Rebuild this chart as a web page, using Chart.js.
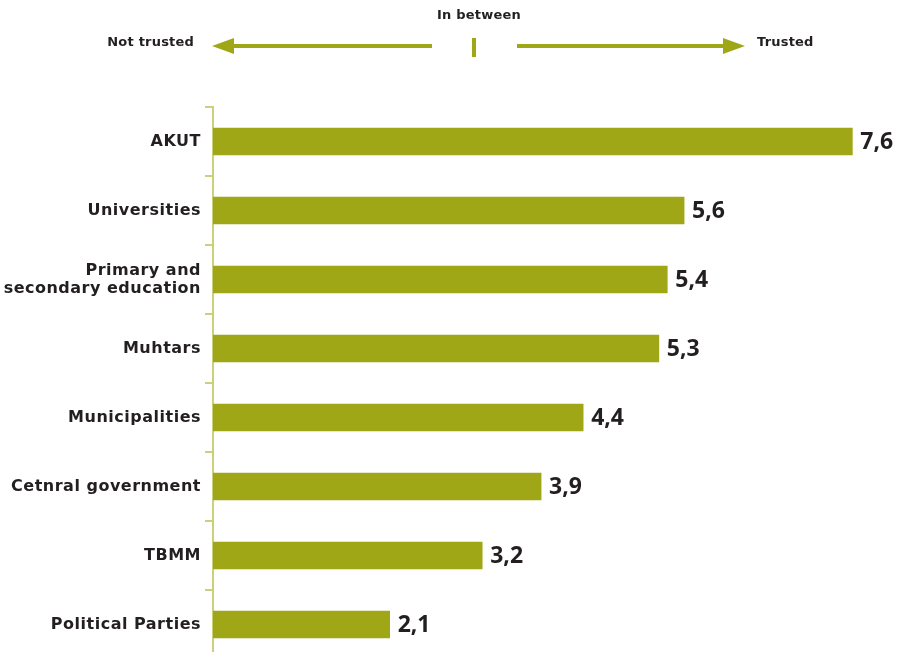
<!DOCTYPE html>
<html>
<head>
<meta charset="utf-8">
<script src="https://cdn.jsdelivr.net/npm/chart.js@4"></script>
<style>
  html, body { margin: 0; padding: 0; background: #fff; }
  #wrap { width: 900px; height: 652px; overflow: hidden; }
</style>
</head>
<body>
<div id="wrap"><canvas id="trustChart" width="900" height="672"></canvas></div>
<script>
// Data
const categories = ['AKUT', 'Universities', ['Primary and', 'secondary education'], 'Muhtars',
    'Municipalities', 'Cetnral government', 'TBMM', 'Political Parties'];
const trustScores = [7.6, 5.6, 5.4, 5.3, 4.4, 3.9, 3.2, 2.1];
const headerLabels = ['Not trusted', 'In between', 'Trusted'];

const olive = '#a0a716';
const axisOlive = '#cdd07a';
const textDark = '#231f20';

// Slightly wider category labels (Verdana-like spacing)
const labelSpacing = {
    id: 'labelSpacing',
    beforeDraw(chart) {
        chart.ctx.letterSpacing = '0.5px';
    }
};

// Value labels at the end of each bar
const valueLabels = {
    id: 'valueLabels',
    afterDatasetsDraw(chart) {
        const ctx = chart.ctx;
        const meta = chart.getDatasetMeta(0);
        ctx.save();
        ctx.letterSpacing = '0px';
        ctx.font = 'bold 23px "Open Sans"';
        ctx.fillStyle = textDark;
        ctx.textAlign = 'left';
        ctx.textBaseline = 'middle';
        meta.data.forEach((bar, i) => {
            ctx.fillText(trustScores[i].toFixed(1).replace('.', ','), bar.x + 8, bar.y + 1);
        });
        ctx.restore();
    }
};

// Header with arrows: not trusted <- | -> trusted
const trustHeader = {
    id: 'trustHeader',
    afterDraw(chart) {
        const ctx = chart.ctx;
        ctx.save();
        ctx.letterSpacing = '0.2px';
        ctx.font = 'bold 13px "DejaVu Sans"';
        ctx.fillStyle = textDark;
        ctx.textBaseline = 'middle';
        ctx.textAlign = 'right';
        ctx.fillText(headerLabels[0], 194, 43);
        ctx.textAlign = 'center';
        ctx.fillText(headerLabels[1], 479, 16);
        ctx.textAlign = 'left';
        ctx.fillText(headerLabels[2], 757, 43);

        ctx.fillStyle = olive;
        // left arrow
        ctx.fillRect(228, 44, 204, 4);
        ctx.beginPath();
        ctx.moveTo(212, 46);
        ctx.lineTo(234, 38);
        ctx.lineTo(234, 54);
        ctx.closePath();
        ctx.fill();
        // middle tick
        ctx.fillRect(472, 38, 4, 19);
        // right arrow
        ctx.fillRect(517, 44, 208, 4);
        ctx.beginPath();
        ctx.moveTo(745, 46);
        ctx.lineTo(723, 38);
        ctx.lineTo(723, 54);
        ctx.closePath();
        ctx.fill();
        ctx.restore();
        ctx.letterSpacing = '0px';
    }
};

const ctx = document.getElementById('trustChart').getContext('2d');
const chart = new Chart(ctx, {
    type: 'bar',
    data: {
        labels: categories,
        datasets: [{
            data: trustScores,
            backgroundColor: olive,
            borderWidth: 0,
            barThickness: 27
        }]
    },
    options: {
        indexAxis: 'y',
        responsive: false,
        animation: false,
        layout: { padding: { top: 107, right: 14, bottom: 3, left: 0 } },
        plugins: {
            legend: { display: false },
            tooltip: { enabled: false }
        },
        scales: {
            x: {
                display: false,
                min: 0,
                max: 8
            },
            y: {
                afterFit(scale) { scale.width = 213; },
                border: { color: axisOlive, width: 2 },
                grid: {
                    drawOnChartArea: false,
                    color: axisOlive,
                    lineWidth: 2,
                    tickLength: 8
                },
                ticks: {
                    color: textDark,
                    padding: 4,
                    font: { family: 'DejaVu Sans', weight: 'bold', size: 16, lineHeight: '18px' }
                }
            }
        }
    },
    plugins: [labelSpacing, valueLabels, trustHeader]
});
</script>
</body>
</html>
